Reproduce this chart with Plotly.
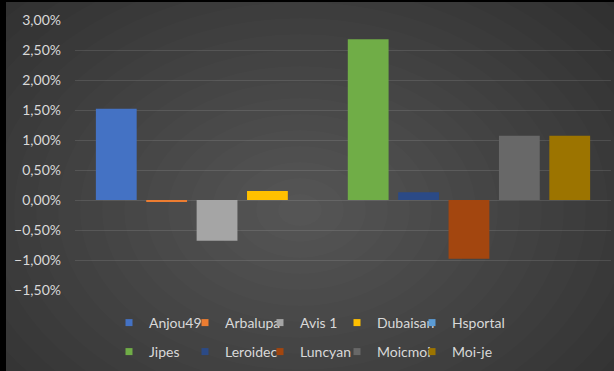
import plotly.graph_objects as go

# ---- data ----
series = ["Anjou49", "Arbalupa", "Avis 1", "Dubaisan", "Hsportal",
          "Jipes", "Leroidec", "Luncyan", "Moicmoi", "Moi-je"]
values = [0.0152, -0.0002, -0.0068, 0.0015, 0.0,
          0.0268, 0.0013, -0.0098, 0.0107, 0.0107]
colors = ["#4472C4", "#ED7D31", "#A5A5A5", "#FFC000", "#5B9BD5",
          "#70AD47", "#2B4A86", "#A3460F", "#686868", "#9C7400"]
category = [""]
y_ticks = [-0.015, -0.01, -0.005, 0, 0.005, 0.01, 0.015, 0.02, 0.025, 0.03]

W, H = 614, 371
L, R, T, B = 75, 3, 20, 81
PW, PH = W - L - R, H - T - B


def px_x(p):
    return (p - L) / PW


def px_y(p):
    return (H - B - p) / PH


entry_w = [31, 30, 32, 30, 80]

fig = go.Figure()
for i, (name, v, c) in enumerate(zip(series, values, colors)):
    fig.add_trace(go.Bar(
        x=category, y=[v], name=name, marker=dict(color=c, line=dict(width=0)),
        showlegend=False, hoverinfo="name+y",
    ))
    # legend-only proxy with small square marker
    fig.add_trace(go.Scatter(
        x=[None], y=[None], mode="markers", name=name,
        marker=dict(symbol="square", size=7, color=c),
        legend="legend" if i < 5 else "legend2",
        legendwidth=entry_w[i % 5],
    ))

# radial background vignette
shapes = []
cx, cy = 300, 210
steps = 20
for k in range(steps):
    f = 1 - k / steps
    rx, ry = 440 * f, 320 * f
    shapes.append(dict(
        type="circle", xref="paper", yref="paper", layer="below",
        x0=px_x(cx - rx), x1=px_x(cx + rx), y0=px_y(cy + ry), y1=px_y(cy - ry),
        fillcolor="#FFFFFF", opacity=0.0135, line=dict(width=0),
    ))
# black frame edges
shapes.append(dict(type="rect", xref="paper", yref="paper", layer="below",
                   x0=px_x(0), x1=px_x(6), y0=px_y(H), y1=px_y(0),
                   fillcolor="black", line=dict(width=0)))
shapes.append(dict(type="rect", xref="paper", yref="paper", layer="below",
                   x0=px_x(0), x1=px_x(W), y0=px_y(2), y1=px_y(0),
                   fillcolor="black", line=dict(width=0)))

tick_font = dict(family="Lato", size=14, color="#D9D9D9")
leg_font = dict(family="Lato", size=14, color="#D9D9D9")
fig.update_layout(
    width=W, height=H,
    margin=dict(l=L, r=R, t=T, b=B, pad=0),
    paper_bgcolor="#2D2D2D", plot_bgcolor="rgba(0,0,0,0)",
    separators=",.",
    barmode="group", bargap=0.06, bargroupgap=0.19,
    font=tick_font,
    shapes=shapes,
    xaxis=dict(showticklabels=False, showgrid=False, zeroline=False,
               showline=False, fixedrange=True),
    yaxis=dict(range=[-0.015, 0.03], tickvals=y_ticks, tickformat=".2%",
               showgrid=True, gridcolor="rgba(255,255,255,0.11)", gridwidth=1,
               zeroline=True, zerolinecolor="rgba(255,255,255,0.11)",
               zerolinewidth=1, showline=False, ticks="",
               ticklabelstandoff=13, tickfont=tick_font),
    legend=dict(orientation="h", x=px_x(109), y=px_y(323), xanchor="left",
                yanchor="middle", font=leg_font,
                bgcolor="rgba(0,0,0,0)", itemclick=False),
    legend2=dict(orientation="h", x=px_x(109), y=px_y(352), xanchor="left",
                 yanchor="middle", font=leg_font,
                 bgcolor="rgba(0,0,0,0)", itemclick=False),
)

fig.write_html("out.html", config={"displayModeBar": False},
               post_script="document.body.style.margin='0';")
